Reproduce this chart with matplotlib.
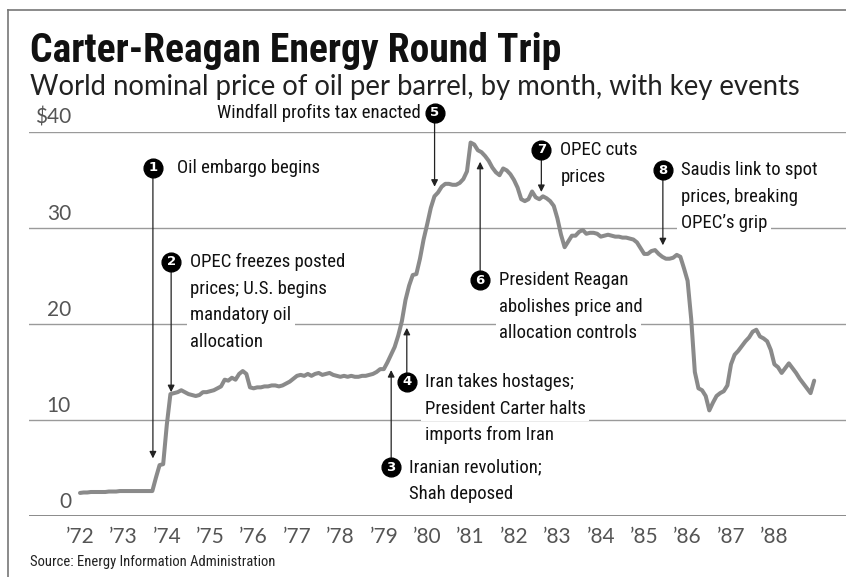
import matplotlib
matplotlib.use("Agg")
import matplotlib.pyplot as plt
import numpy as np
from matplotlib import font_manager
from matplotlib.font_manager import FontProperties
from matplotlib.lines import Line2D

# monthly world oil price, $ per barrel, Jan 1972 - Dec 1988
start_year = 1972
prices = [
    2.4, 2.45, 2.45, 2.5, 2.5, 2.5, 2.5, 2.5, 2.55, 2.55, 2.55, 2.6,          # 1972
    2.6, 2.6, 2.6, 2.6, 2.6, 2.6, 2.6, 2.6, 2.6, 4.0, 5.3, 5.4,               # 1973
    9.5, 12.7, 12.8, 12.9, 13.1, 12.9, 12.7, 12.6, 12.5, 12.6, 12.9, 12.9,    # 1974
    13.0, 13.1, 13.3, 13.5, 14.2, 14.1, 14.4, 14.2, 14.8, 15.1, 14.8, 13.4,   # 1975
    13.3, 13.4, 13.4, 13.5, 13.5, 13.6, 13.6, 13.5, 13.6, 13.8, 14.0, 14.3,   # 1976
    14.6, 14.7, 14.6, 14.8, 14.6, 14.8, 14.9, 14.7, 14.8, 14.9, 14.7, 14.6,   # 1977
    14.5, 14.6, 14.5, 14.6, 14.5, 14.5, 14.6, 14.6, 14.7, 14.8, 15.0, 15.3,   # 1978
    15.3, 16.0, 16.8, 17.6, 18.8, 20.3, 22.5, 24.0, 25.1, 25.2, 26.8, 28.8,   # 1979
    30.4, 32.1, 33.3, 33.7, 34.3, 34.6, 34.6, 34.5, 34.5, 34.7, 35.1, 35.9,   # 1980
    38.9, 38.7, 38.1, 37.9, 37.5, 37.0, 36.3, 35.8, 35.5, 36.2, 36.0, 35.6,   # 1981
    35.0, 34.2, 33.0, 32.8, 33.0, 33.8, 33.2, 33.0, 33.3, 33.1, 32.8, 32.3,   # 1982
    31.0, 29.3, 28.0, 28.6, 29.2, 29.2, 29.6, 29.8, 29.4, 29.5, 29.5, 29.4,   # 1983
    29.1, 29.2, 29.3, 29.2, 29.1, 29.1, 29.0, 29.0, 28.9, 28.8, 28.5, 27.9,   # 1984
    27.3, 27.3, 27.6, 27.7, 27.3, 27.0, 26.8, 26.8, 26.9, 27.2, 27.0, 25.8,   # 1985
    24.5, 20.5, 15.0, 13.3, 13.1, 12.5, 11.0, 11.8, 12.5, 12.8, 13.0, 13.6,   # 1986
    15.8, 16.8, 17.2, 17.7, 18.2, 18.6, 19.2, 19.4, 18.7, 18.5, 18.2, 17.3,   # 1987
    15.8, 15.5, 14.9, 15.4, 15.9, 15.4, 14.9, 14.3, 13.8, 13.3, 12.8, 14.1,   # 1988
]

year_ticks = list(range(1972, 1989))
year_labels = ["\u2019" + str(y)[2:] for y in year_ticks]
price_ticks = [0, 10, 20, 30, 40]
price_labels = ["0", "10", "20", "30", "$40"]

# key events: date the arrow points at and the price level of the arrow tip
event_dates = [1973.68, 1974.10, 1979.17, 1979.53, 1980.17, 1981.22, 1982.63, 1985.43]
event_tips = [6.0, 12.9, 15.2, 19.6, 34.3, 36.9, 33.75, 28.2]
event_texts = [
    ["Oil embargo begins"],
    ["OPEC freezes posted", "prices; U.S. begins", "mandatory oil", "allocation"],
    ["Iranian revolution;", "Shah deposed"],
    ["Iran takes hostages;", "President Carter halts", "imports from Iran"],
    ["Windfall profits tax enacted"],
    ["President Reagan", "abolishes price and", "allocation controls"],
    ["OPEC cuts", "prices"],
    ["Saudis link to spot", "prices, breaking", "OPEC\u2019s grip"],
]
# layout only: where the numbered badge sits and how far the text is from it (px)
badge_levels = [36.25, 26.46, 5.10, 13.96, 41.98, 24.58, 38.13, 36.04]
text_dx = [24, 19, 18, 18, -14, 19, 19, 18]


# look for an installed condensed / narrow face, fall back to Roboto
def find_condensed(bold):
    prefs = ["Roboto Condensed", "Liberation Sans Narrow", "Noto Sans", "Open Sans",
             "DejaVu Sans", "Roboto", "Inter", "Lato"]
    narrow_stretch = ("condensed", "semi-condensed", "extra-condensed")
    for name in prefs:
        for f in font_manager.fontManager.ttflist:
            w = f.weight if isinstance(f.weight, int) else font_manager.weight_dict.get(f.weight, 400)
            if not f.name.startswith(name.split()[0]) or f.style != "normal":
                continue
            narrow = f.stretch in narrow_stretch or "Condensed" in f.name or "Narrow" in f.name
            if narrow and ((bold and w >= 600) or (not bold and 350 <= w <= 450)):
                return f.fname
    return None


cond_regular = find_condensed(False)
cond_bold = find_condensed(True)


def cfont(size, bold=False):
    fname = cond_bold if bold else cond_regular
    if fname:
        return FontProperties(fname=fname, size=size)
    return FontProperties(family="Roboto", size=size * 0.9,
                          weight="bold" if bold else "normal")


plain = "Lato"

W, H = 846, 577
fig = plt.figure(figsize=(W / 100, H / 100), dpi=100)
ax = fig.add_axes([29 / W, 61 / H, 817 / W, 384 / H])
ax.set_xlim(1972 - 51 / 43.4, 1972 + 766 / 43.4)
ax.set_ylim(0, 40)
ax.axis("off")

# gridlines and baseline
for v in price_ticks[1:]:
    ax.axhline(v, color="#9a9a9a", lw=1.0, zorder=1)
ax.axhline(0, color="#777777", lw=1.2, zorder=1)

for v, lab in zip(price_ticks, price_labels):
    ax.text(42 / 817, v + 0.45, lab, transform=ax.get_yaxis_transform(),
            ha="right", va="bottom", fontsize=15, color="#555555", family=plain)
for y, lab in zip(year_ticks, year_labels):
    ax.text(y, -21 / 384, lab, transform=ax.get_xaxis_transform(),
            ha="center", va="center", fontsize=15, color="#555555", family=plain)

t = start_year + np.arange(len(prices)) / 12
ax.plot(t, prices, color="#8a8a8a", lw=2.9, solid_capstyle="round",
        solid_joinstyle="round", zorder=4)

px = 0.72  # points per pixel
for i, (d, tip, lvl, lines, dx) in enumerate(zip(event_dates, event_tips, badge_levels,
                                                 event_texts, text_dx)):
    ax.annotate("", xy=(d, tip), xytext=(d, lvl),
                arrowprops=dict(arrowstyle="-|>", color="#222222", lw=0.9,
                                shrinkA=6, shrinkB=0, mutation_scale=10),
                zorder=5, annotation_clip=False)
    ax.plot(d, lvl, "o", ms=13.5, color="black", zorder=6, clip_on=False)
    ax.text(d, lvl, str(i + 1), ha="center", va="center", color="white",
            fontsize=9.5, fontweight="bold", family="DejaVu Sans", zorder=7)
    for k, line in enumerate(lines):
        ax.annotate(line, xy=(d, lvl), xytext=(dx * px, -k * 26.7 * px),
                    textcoords="offset points", ha="left" if dx > 0 else "right",
                    va="center", fontproperties=cfont(13.5), color="#111111",
                    bbox=dict(fc="white", ec="none", pad=2.5), zorder=3,
                    annotation_clip=False)

fig.text(30 / W, 1 - 62 / H, "Carter-Reagan Energy Round Trip",
         fontproperties=cfont(28.5, bold=True), va="baseline", color="#111111")
fig.text(30 / W, 1 - 95 / H,
         "World nominal price of oil per barrel, by month, with key events",
         fontsize=19.8, family=plain, va="baseline", color="#222222")
fig.text(30 / W, 1 - 562 / H, "Source: Energy Information Administration",
         fontproperties=cfont(10.5), va="center", color="#222222")

# frame (left and top edges)
fig.add_artist(Line2D([8 / W, 8 / W], [0, 1 - 10 / H], color="#777777", lw=1.2))
fig.add_artist(Line2D([8 / W, 1], [1 - 10 / H, 1 - 10 / H], color="#777777", lw=1.2))

fig.savefig("out.png", dpi=100)
